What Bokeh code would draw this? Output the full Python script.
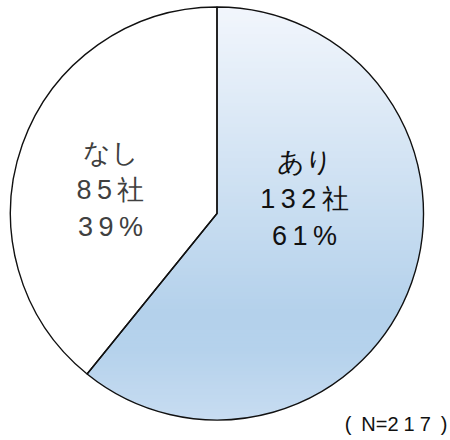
from math import pi, cos, sin

from bokeh.embed import file_html
from bokeh.resources import INLINE
from bokeh.plotting import figure
from bokeh.models import ColumnDataSource, Range1d
from bokeh.core.properties import value

# Survey answers
categories = ["あり", "なし"]
counts = [132, 85]
percents = [61, 39]
total_n = 217

W, H = 450, 440
CX, CY, R = 216.5, 227.0, 206.5          # pie centre / radius (data units = px)
FONT = "Liberation Sans"
SP = "\u2009"                             # thin space used as tracking
EN = "\u2002"                             # en space inside the parentheses

# Gradient stops for the "あり" slice: (fraction from top, rgb)
stops = [(0.00, (242, 246, 252)),
         (0.74, (180, 209, 235)),
         (0.83, (181, 210, 236)),
         (1.00, (199, 220, 241))]


def grad_color(t):
    for (t0, c0), (t1, c1) in zip(stops[:-1], stops[1:]):
        if t <= t1:
            f = 0 if t1 == t0 else (t - t0) / (t1 - t0)
            return "#%02x%02x%02x" % tuple(round(a + (b - a) * f) for a, b in zip(c0, c1))
    return "#%02x%02x%02x" % stops[-1][1]


def spaced(s, sep=SP):
    return sep.join(s)


# slice angles, clockwise from 12 o'clock
shares = [c / sum(counts) for c in counts]
starts, ends = [], []
a = pi / 2
for s in shares:
    starts.append(a - 2 * pi * s)
    ends.append(a)
    a -= 2 * pi * s

p = figure(width=W, height=H, output_backend="svg", toolbar_location=None,
           x_range=Range1d(0, W), y_range=Range1d(0, H),
           x_axis_location=None, y_axis_location=None, min_border=0)
p.grid.visible = False
p.outline_line_color = None
p.background_fill_color = "white"
p.border_fill_color = "white"


# polygon for the first slice, then clip it into horizontal bands
def slice_polygon(a0, a1, n=400):
    pts = [(CX, CY)]
    for i in range(n + 1):
        t = a1 + (a0 - a1) * i / n
        pts.append((CX + R * cos(t), CY + R * sin(t)))
    return pts


def clip(poly, keep, inter):
    out = []
    for i in range(len(poly)):
        cur, prev = poly[i], poly[i - 1]
        if keep(cur):
            if not keep(prev):
                out.append(inter(prev, cur))
            out.append(cur)
        elif keep(prev):
            out.append(inter(prev, cur))
    return out


def y_cut(yv):
    def f(p1, p2):
        t = (yv - p1[1]) / (p2[1] - p1[1])
        return (p1[0] + t * (p2[0] - p1[0]), yv)
    return f


poly = slice_polygon(starts[0], ends[0])
top, bot = CY + R, CY - R
nb = 120
bx, by, bc = [], [], []
for i in range(nb):
    y_hi = top - (top - bot) * i / nb + 0.6
    y_lo = top - (top - bot) * (i + 1) / nb - 0.6
    part = clip(poly, lambda q: q[1] <= y_hi, y_cut(y_hi))
    part = clip(part, lambda q: q[1] >= y_lo, y_cut(y_lo))
    if len(part) < 3:
        continue
    bx.append([q[0] for q in part])
    by.append([q[1] for q in part])
    bc.append(grad_color((i + 0.5) / nb))

p.patches(xs=bx, ys=by, fill_color=bc, line_color=None)

# slice outlines
src = ColumnDataSource(dict(start=starts, end=ends))
p.wedge(x=CX, y=CY, radius=R, start_angle="start", end_angle="end",
        direction="anticlock", source=src, fill_color=None,
        line_color="#111111", line_width=1.4)

# slice labels: three lines each
label_pos = {"あり": (304, 279), "なし": (110, 288)}
label_col = {"あり": "#111111", "なし": "#404040"}
lx, ly, lt, lc = [], [], [], []
for cat, cnt, pct in zip(categories, counts, percents):
    x0, y0 = label_pos[cat]
    lines = [cat, spaced(str(cnt)) + SP + "社", spaced(str(pct)) + SP + "%"]
    for k, s in enumerate(lines):
        lx.append(x0)
        ly.append(y0 - 37 * k)
        lt.append(s)
        lc.append(label_col[cat])

p.text(x=lx, y=ly, text=lt, text_color=lc, text_font=value(FONT),
       text_font_size="27px", text_align="center", text_baseline="middle")

p.text(x=[447], y=[17],
       text=["(" + EN + "N=" + spaced(str(total_n), "\u2005") + EN + ")"],
       text_color="#111111", text_font=value(FONT), text_font_size="20px",
       text_align="right", text_baseline="middle")

open("out.html", "w").write(file_html(p, INLINE))
